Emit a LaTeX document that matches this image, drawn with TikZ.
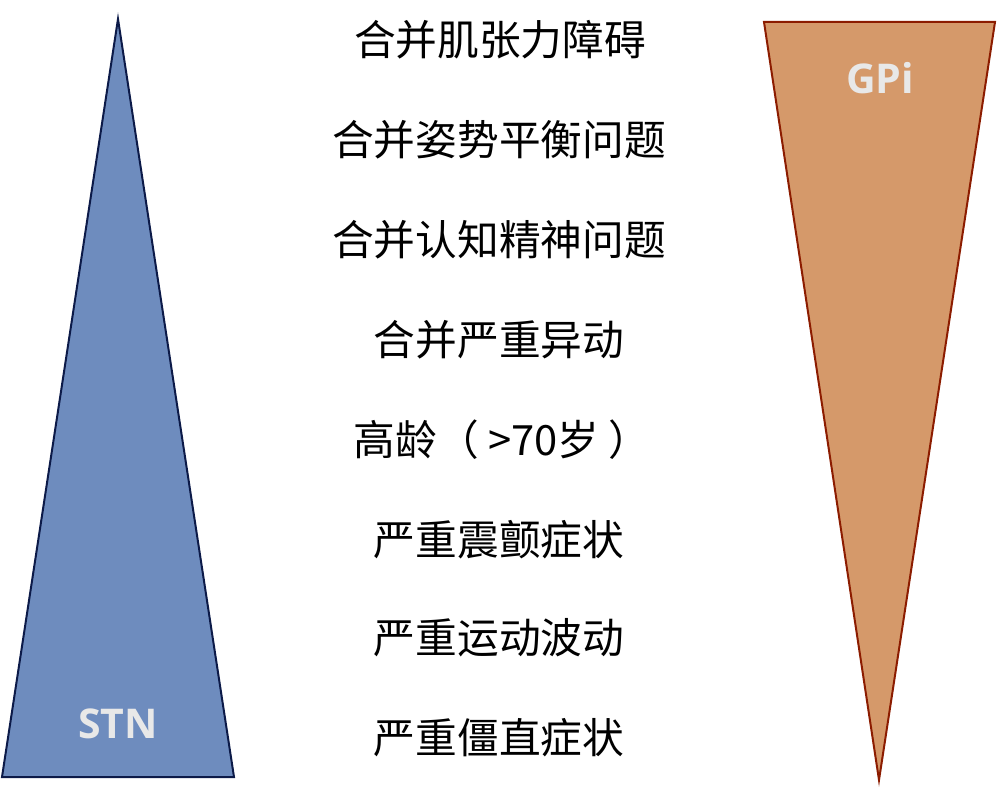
\documentclass[tikz,border=0pt]{standalone}
\usepackage{fontspec}
\newfontfamily\cjk{Noto Sans CJK SC}
\newfontfamily\lab{Open Sans}
\definecolor{stnfill}{RGB}{110,140,190}
\definecolor{stnline}{RGB}{12,26,72}
\definecolor{gpifill}{RGB}{213,153,106}
\definecolor{gpiline}{RGB}{140,28,0}
\definecolor{labgray}{RGB}{232,232,232}
\begin{document}
\begin{tikzpicture}[x=1pt,y=-1pt,
  item/.style={font=\cjk\fontsize{41.7}{48}\selectfont, text=black, inner sep=0pt, anchor=center},
  tri/.style={line width=2pt, line join=miter},
  tlabel/.style={font=\lab\bfseries\fontsize{41}{44}\selectfont, text=labgray, inner sep=0pt}]
\useasboundingbox (0,0) rectangle (997,789);
\draw[tri, fill=stnfill, draw=stnline] (118,19) -- (234,777) -- (2,777) -- cycle;
\draw[tri, fill=gpifill, draw=gpiline] (764,22) -- (995,22) -- (879,780) -- cycle;
\node[tlabel] (stn) at (118,724) {STN};
\node[tlabel] (gpi) at (880,78) {GPi};
\node[item] (t1) at (500,40) {合并肌张力障碍};
\node[item] (t2) at (499,140) {合并姿势平衡问题};
\node[item] (t3) at (499,240) {合并认知精神问题};
\node[item] (t4) at (499,340) {合并严重异动};
\node[item] (t5) at (502,440) {高龄（ >70岁 ）};
\node[item] (t6) at (499,540) {严重震颤症状};
\node[item] (t7) at (499,638) {严重运动波动};
\node[item] (t8) at (499,738) {严重僵直症状};
\end{tikzpicture}
\end{document}
